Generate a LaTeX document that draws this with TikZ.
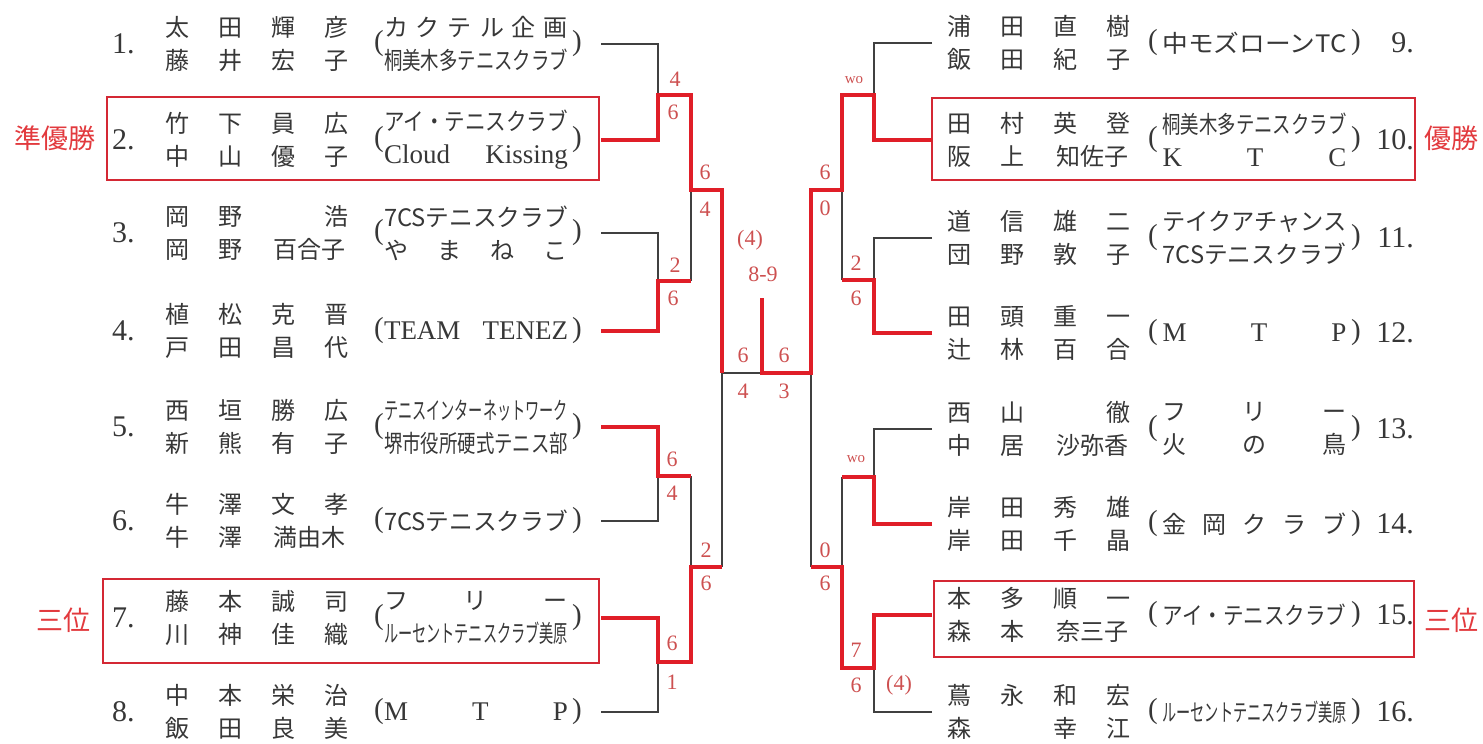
\documentclass[tikz,border=0pt]{standalone}
\usepackage{fontspec}
\setmainfont{Liberation Serif}
\newfontfamily\cjk{Noto Sans CJK JP}
\usepackage{graphicx}
\usepackage{tikz}

\definecolor{winred}{RGB}{224,30,40}
\definecolor{boxred}{RGB}{212,40,52}
\definecolor{scorered}{RGB}{205,80,80}
\definecolor{prizered}{RGB}{226,58,62}
\definecolor{inkgray}{RGB}{55,55,55}

\tikzstyle{loser}=[draw=black!75,line width=1.2pt]
\tikzstyle{winner}=[draw=winred,line width=4.5pt,line join=miter]
\tikzstyle{podium}=[draw=boxred,line width=2.2pt]
\tikzstyle{txt}=[inner sep=0pt,text=inkgray,align=center,font=\cjk\fontsize{24}{33}\selectfont]
\tikzstyle{paren}=[inner sep=0pt,text=inkgray,font=\fontsize{29}{29}\selectfont]
\tikzstyle{num}=[inner sep=0pt,text=inkgray,font=\fontsize{30}{30}\selectfont]
\tikzstyle{score}=[inner sep=0pt,text=scorered,font=\fontsize{22}{22}\selectfont]
\tikzstyle{prize}=[inner sep=0pt,text=prizered,font=\cjk\fontsize{27}{27}\selectfont]

% name columns and club widths
\newcommand{\nmf}[4]{\makebox[53pt]{#1}\makebox[53pt]{#2}\makebox[53pt]{#3}\makebox[53pt]{#4}}
\newcommand{\nmt}[3]{\makebox[53pt]{#1}\makebox[53pt]{#2}\makebox[106pt]{#3}}
\newcommand{\cfit}[1]{\resizebox{184pt}{\height}{#1}}
\newcommand{\cspr}[1]{\makebox[184pt][s]{#1}}
\newcommand{\lat}{\rmfamily\fontsize{27}{33}\selectfont}

% \lplayer{no}{y}{names}{club}
\newcommand{\lplayer}[4]{%
  \node[num,anchor=west] (n#1) at (112,#2) {#1.};
  \node[txt,anchor=west] (m#1) at (150.5,#2) {#3};
  \node[paren] (l#1) at (379,#2) {(};
  \node[txt] (c#1) at (476,#2) {#4};
  \node[paren] (r#1) at (577,#2) {)};
  \coordinate (p#1) at (601,#2);}
\newcommand{\rplayer}[4]{%
  \node[txt,anchor=west] (m#1) at (933,#2) {#3};
  \node[paren] (l#1) at (1153,#2) {(};
  \node[txt] (c#1) at (1254.5,#2) {#4};
  \node[paren] (r#1) at (1356,#2) {)};
  \node[num,anchor=east] (n#1) at (1414,#2) {#1.};
  \coordinate (p#1) at (932,#2);}

\begin{document}
\begin{tikzpicture}[x=1pt,y=-1pt]
	\useasboundingbox (0,0) rectangle (1483,744);

	%left half
	\lplayer{1}{44}{\nmf{太}{田}{輝}{彦}\\\nmf{藤}{井}{宏}{子}}{\cspr{カ\hfill ク\hfill テ\hfill ル\hfill 企\hfill 画}\\\cfit{桐美木多テニスクラブ}}
	\lplayer{2}{140}{\nmf{竹}{下}{員}{広}\\\nmf{中}{山}{優}{子}}{\cfit{アイ・テニスクラブ}\\\cspr{\lat Cloud\hfill Kissing}}
	\lplayer{3}{233}{\nmf{岡}{野}{}{浩}\\\nmt{岡}{野}{百合子}}{\cfit{7CSテニスクラブ}\\\cspr{や\hfill ま\hfill ね\hfill こ}}
	\lplayer{4}{331}{\nmf{植}{松}{克}{晋}\\\nmf{戸}{田}{昌}{代}}{\cspr{\lat TEAM\hfill TENEZ}}
	\lplayer{5}{427}{\nmf{西}{垣}{勝}{広}\\\nmf{新}{熊}{有}{子}}{\cfit{テニスインターネットワーク}\\\cfit{堺市役所硬式テニス部}}
	\lplayer{6}{521}{\nmf{牛}{澤}{文}{孝}\\\nmt{牛}{澤}{満由木}}{\cfit{7CSテニスクラブ}}
	\lplayer{7}{618}{\nmf{藤}{本}{誠}{司}\\\nmf{川}{神}{佳}{織}}{\cspr{フ\hfill リ\hfill ー}\\\cfit{ルーセントテニスクラブ美原}}
	\lplayer{8}{712}{\nmf{中}{本}{栄}{治}\\\nmf{飯}{田}{良}{美}}{\cspr{\lat M\hfill T\hfill P}}

	%right half
	\rplayer{9}{43}{\nmf{浦}{田}{直}{樹}\\\nmf{飯}{田}{紀}{子}}{\cfit{中モズローンTC}}
	\rplayer{10}{140}{\nmf{田}{村}{英}{登}\\\nmt{阪}{上}{知佐子}}{\cfit{桐美木多テニスクラブ}\\\cspr{\lat K\hfill T\hfill C}}
	\rplayer{11}{238}{\nmf{道}{信}{雄}{二}\\\nmf{団}{野}{敦}{子}}{\cfit{テイクアチャンス}\\\cfit{7CSテニスクラブ}}
	\rplayer{12}{333}{\nmf{田}{頭}{重}{一}\\\nmf{辻}{林}{百}{合}}{\cspr{\lat M\hfill T\hfill P}}
	\rplayer{13}{429}{\nmf{西}{山}{}{徹}\\\nmt{中}{居}{沙弥香}}{\cspr{フ\hfill リ\hfill ー}\\\cspr{火\hfill の\hfill 鳥}}
	\rplayer{14}{524}{\nmf{岸}{田}{秀}{雄}\\\nmf{岸}{田}{千}{晶}}{\cspr{金\hfill 岡\hfill ク\hfill ラ\hfill ブ}}
	\rplayer{15}{615}{\nmf{本}{多}{順}{一}\\\nmt{森}{本}{奈三子}}{\cfit{アイ・テニスクラブ}}
	\rplayer{16}{712}{\nmf{蔦}{永}{和}{宏}\\\nmf{森}{}{幸}{江}}{\cfit{ルーセントテニスクラブ美原}}

	%boxes
	\draw[podium] (107,97) rectangle (599,180);
	\draw[podium] (103,579) rectangle (599,663);
	\draw[podium] (932,98) rectangle (1415,180);
	\draw[podium] (934,581) rectangle (1414,657);

	\node[prize] (second) at (55,138) {準優勝};
	\node[prize] (champion) at (1451,138) {優勝};
	\node[prize] (thirdl) at (63,620) {三位};
	\node[prize] (thirdr) at (1451,620) {三位};

	%junctions
	\coordinate (a12) at (658,95);
	\coordinate (a34) at (658,281);
	\coordinate (a56) at (658,476);
	\coordinate (a78) at (658,662);
	\coordinate (b12) at (691,95);
	\coordinate (b34) at (691,281);
	\coordinate (b56) at (691,476);
	\coordinate (b78) at (691,662);
	\coordinate (q14) at (691,190);
	\coordinate (q58) at (691,567);
	\coordinate (s14) at (722,190);
	\coordinate (s58) at (722,567);
	\coordinate (sl) at (722,373);
	\coordinate (fm) at (762,373);
	\coordinate (fw) at (762,298);
	\coordinate (a910) at (874,95);
	\coordinate (a1112) at (874,280);
	\coordinate (a1314) at (874,477);
	\coordinate (a1516) at (874,668);
	\coordinate (b910) at (842,95);
	\coordinate (b1112) at (842,280);
	\coordinate (b1314) at (842,477);
	\coordinate (b1516) at (842,668);
	\coordinate (q912) at (842,190);
	\coordinate (q1316) at (842,567);
	\coordinate (s912) at (811,190);
	\coordinate (s1316) at (811,567);
	\coordinate (sr) at (811,373);

	%lost
	\draw[loser] (p1) -| (a12);
	\draw[loser] (p3) -| (a34);
	\draw[loser] (p6) -| (a56);
	\draw[loser] (p8) -| (a78);
	\draw[loser] (b34) -- (q14);
	\draw[loser] (b56) -- (q58);
	\draw[loser] (s58) -- (sl) -- (fm);
	\draw[loser] (p9) -| (a910);
	\draw[loser] (p11) -| (a1112);
	\draw[loser] (p13) -| (a1314);
	\draw[loser] (p16) -| (a1516);
	\draw[loser] (b1112) -- (q912);
	\draw[loser] (b1314) -- (q1316);
	\draw[loser] (s1316) -- (sr);

	%won
	\draw[winner] (p2) -| (a12) -- (b12) -- (q14) -- (s14) -- (sl);
	\draw[winner] (p4) -| (a34) -- (b34);
	\draw[winner] (p5) -| (a56) -- (b56);
	\draw[winner] (p7) -| (a78) -- (b78) -- (q58) -- (s58);
	\draw[winner] (p10) -| (a910) -- (b910) -- (q912) -- (s912) -- (sr) -- (fm) -- (fw);
	\draw[winner] (p12) -| (a1112) -- (b1112);
	\draw[winner] (p14) -| (a1314) -- (b1314);
	\draw[winner] (p15) -| (a1516) -- (b1516) -- (q1316) -- (s1316);

	%scores
	\node[score] (g12a) at (675,79) {4};
	\node[score] (g12b) at (673,112) {6};
	\node[score] (g14a) at (705,172) {6};
	\node[score] (g14b) at (705,209) {4};
	\node[score] (g34a) at (675,265) {2};
	\node[score] (g34b) at (673,298) {6};
	\node[score] (g56a) at (672,459) {6};
	\node[score] (g56b) at (672,493) {4};
	\node[score] (g58a) at (706,550) {2};
	\node[score] (g58b) at (706,583) {6};
	\node[score] (g78a) at (672,643) {6};
	\node[score] (g78b) at (672,682) {1};
	\node[score] (gtb) at (750,240) {(4)};
	\node[score] (gset) at (763,274) {8-9};
	\node[score] (gfa) at (743,355) {6};
	\node[score] (gfb) at (784,355) {6};
	\node[score] (gfc) at (743,391) {4};
	\node[score] (gfd) at (784,391) {3};
	\node[score,font=\fontsize{15}{15}\selectfont] (g910) at (854,80) {wo};
	\node[score] (g912a) at (825,172) {6};
	\node[score] (g912b) at (825,208) {0};
	\node[score] (g1112a) at (856,263) {2};
	\node[score] (g1112b) at (856,298) {6};
	\node[score,font=\fontsize{15}{15}\selectfont] (g1314) at (856,459) {wo};
	\node[score] (g1316a) at (825,550) {0};
	\node[score] (g1316b) at (825,583) {6};
	\node[score] (g1516a) at (856,650) {7};
	\node[score] (g1516b) at (856,685) {6};
	\node[score] (g1516c) at (899,685) {(4)};
\end{tikzpicture}
\end{document}
